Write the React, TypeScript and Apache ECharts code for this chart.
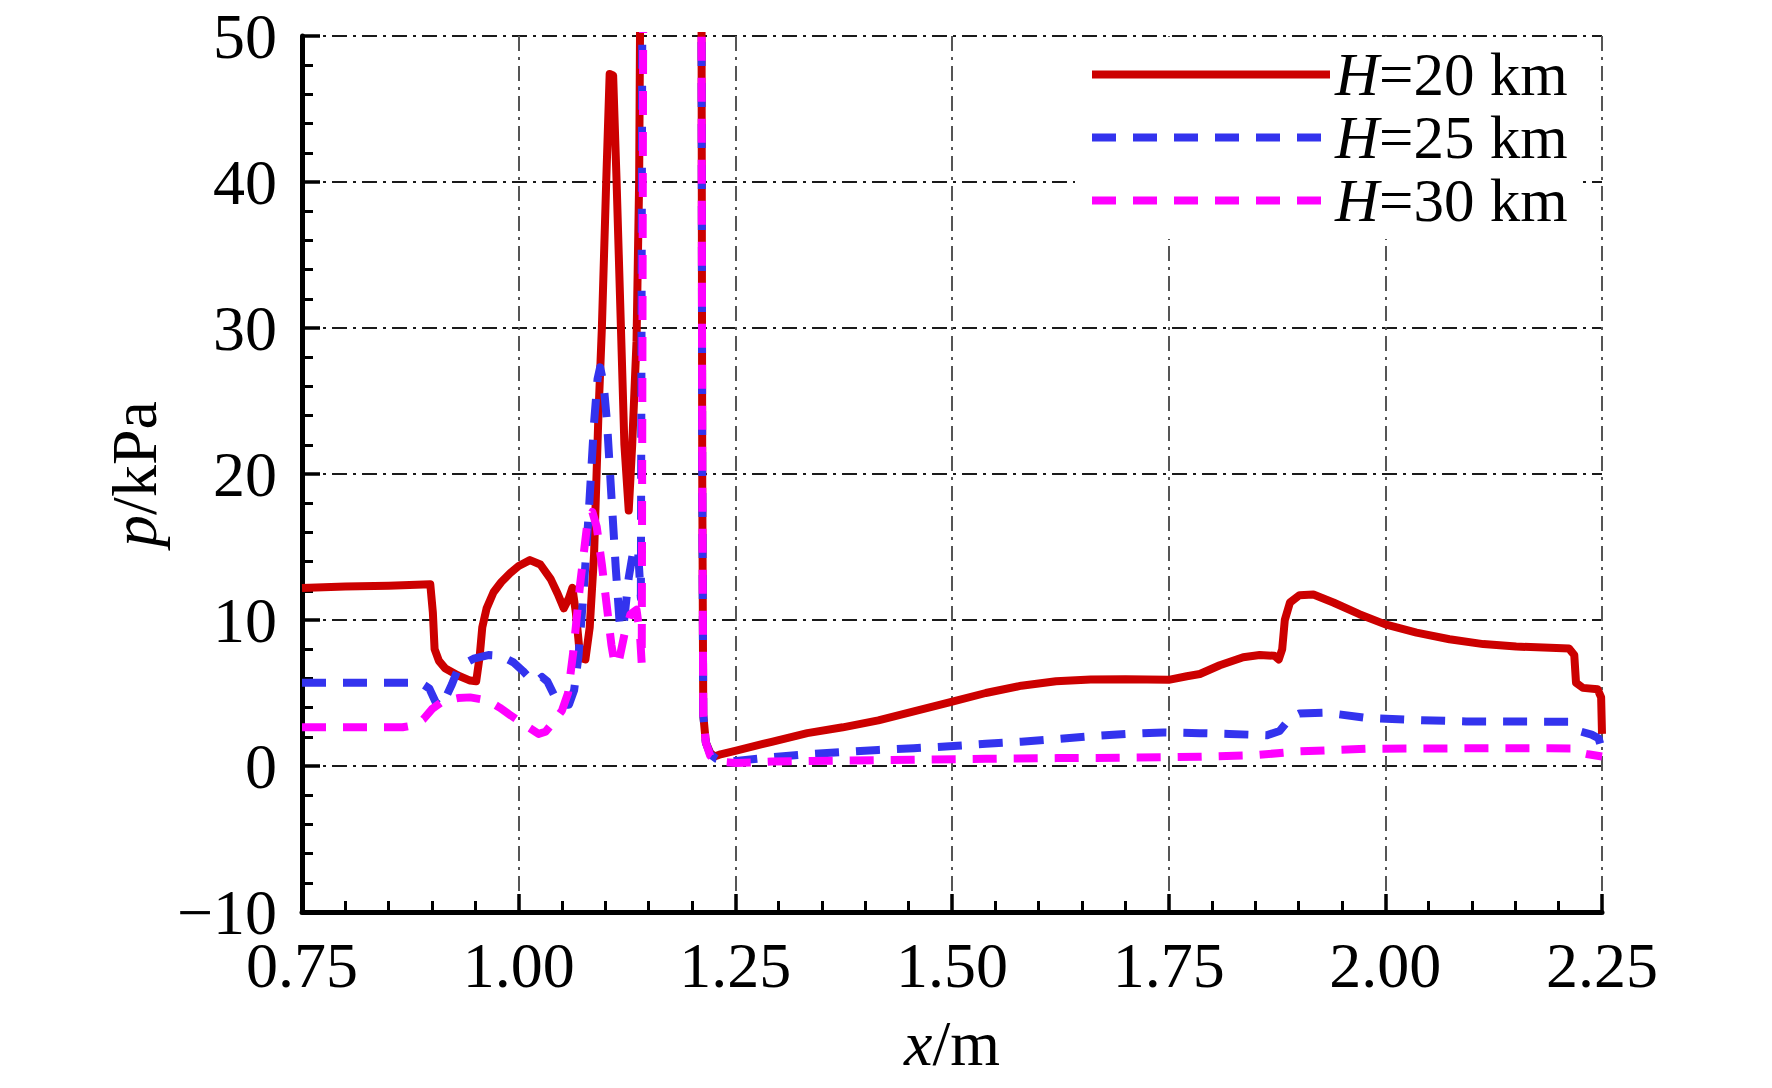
import React, { useEffect, useRef } from 'react';
import * as echarts from 'echarts';

const FONT = 'Liberation Serif';

const seriesNames = ['H=20 km', 'H=25 km', 'H=30 km'];
const seriesColors = ['#cc0000', '#3333ee', '#ff00ff'];

const xTicks = { min: 0.75, max: 2.25, step: 0.25 };
const yTicks = { min: -10, max: 50, step: 10 };

// H = 20 km
const h20: [number, number][] = [
  [0.75, 12.2], [0.8, 12.3], [0.85, 12.35], [0.898, 12.45], [0.901, 10.5], [0.903, 8.0],
  [0.908, 7.2], [0.915, 6.7], [0.93, 6.2], [0.944, 5.85], [0.951, 5.8], [0.955, 7.5],
  [0.958, 9.5], [0.963, 10.8], [0.971, 11.9], [0.98, 12.6], [0.99, 13.2], [1.0, 13.7],
  [1.013, 14.1], [1.025, 13.8], [1.037, 12.8], [1.045, 11.8], [1.052, 10.8], [1.058, 11.5],
  [1.062, 12.2], [1.066, 10.5], [1.071, 7.4], [1.077, 7.3], [1.082, 9.5], [1.087, 14.5],
  [1.092, 24], [1.096, 30], [1.101, 40], [1.105, 47.4], [1.109, 47.3], [1.113, 40],
  [1.118, 30], [1.122, 22], [1.127, 17.5], [1.131, 22], [1.136, 29.1], [1.139, 40],
  [1.141, 60], [1.175, 300], [1.2108, 60], [1.2118, 20], [1.213, 3.5], [1.216, 1.6],
  [1.221, 0.9], [1.226, 0.65], [1.233, 0.8], [1.251, 1.05], [1.292, 1.66], [1.333, 2.25],
  [1.374, 2.65], [1.415, 3.13], [1.456, 3.74], [1.497, 4.35], [1.539, 5.0], [1.58, 5.5],
  [1.62, 5.8], [1.66, 5.92], [1.7, 5.95], [1.75, 5.9], [1.771, 6.15], [1.786, 6.3],
  [1.809, 6.9], [1.836, 7.45], [1.855, 7.6], [1.872, 7.55], [1.877, 7.3], [1.881, 8.0],
  [1.884, 10.0], [1.89, 11.2], [1.901, 11.7], [1.917, 11.75], [1.94, 11.2], [1.97, 10.4],
  [2.0, 9.7], [2.036, 9.13], [2.074, 8.68], [2.113, 8.35], [2.151, 8.18], [2.19, 8.1],
  [2.212, 8.04], [2.218, 7.6], [2.22, 5.7], [2.228, 5.35], [2.245, 5.25], [2.249, 4.7],
  [2.25, 2.2],
];

// H = 25 km
const h25: [number, number][] = [
  [0.75, 5.7], [0.8, 5.7], [0.85, 5.7], [0.887, 5.7], [0.897, 5.3], [0.904, 4.4],
  [0.909, 4.1], [0.916, 4.7], [0.923, 5.6], [0.929, 6.5], [0.94, 7.1], [0.948, 7.35],
  [0.965, 7.6], [0.979, 7.55], [0.994, 7.1], [1.005, 6.5], [1.013, 6.0], [1.02, 5.75],
  [1.027, 6.1], [1.033, 5.8], [1.043, 4.6], [1.05, 4.2], [1.058, 4.2], [1.064, 5.2],
  [1.069, 7.5], [1.075, 12], [1.081, 17.5], [1.087, 23.5], [1.091, 26.5], [1.094, 27.3],
  [1.098, 26.2], [1.102, 23.5], [1.107, 18.5], [1.112, 13.6], [1.117, 9.4], [1.121, 9.6],
  [1.127, 12.9], [1.133, 15], [1.138, 14.5], [1.141, 11.5], [1.143, 60], [1.175, 300],
  [1.2108, 60], [1.2118, 20], [1.213, 3.5], [1.216, 1.6], [1.221, 0.8], [1.228, 0.5],
  [1.24, 0.35], [1.251, 0.35], [1.292, 0.6], [1.333, 0.8], [1.374, 0.95], [1.415, 1.1],
  [1.456, 1.22], [1.497, 1.35], [1.539, 1.52], [1.58, 1.66], [1.621, 1.85], [1.662, 2.05],
  [1.703, 2.2], [1.744, 2.3], [1.786, 2.25], [1.82, 2.2], [1.863, 2.1], [1.878, 2.4],
  [1.885, 2.9], [1.892, 3.35], [1.901, 3.6], [1.932, 3.65], [1.978, 3.3], [2.036, 3.15],
  [2.093, 3.05], [2.17, 3.04], [2.212, 3.03], [2.22, 2.7], [2.226, 2.35], [2.238, 2.15],
  [2.246, 1.9], [2.25, 1.1],
];

// H = 30 km
const h30: [number, number][] = [
  [0.75, 2.65], [0.8, 2.65], [0.866, 2.65], [0.88, 2.8], [0.89, 3.2], [0.9, 3.9],
  [0.913, 4.45], [0.93, 4.65], [0.944, 4.7], [0.964, 4.5], [0.978, 4.0], [0.99, 3.5],
  [1.01, 2.7], [1.023, 2.2], [1.031, 2.35], [1.04, 3.0], [1.05, 3.8], [1.057, 5.0],
  [1.063, 7.8], [1.071, 12.5], [1.079, 16.5], [1.085, 17.4], [1.09, 16.4], [1.096, 13.8],
  [1.102, 10.8], [1.107, 8.3], [1.111, 6.9], [1.116, 7.3], [1.122, 9.0], [1.129, 10.4],
  [1.136, 10.7], [1.14, 9.0], [1.142, 7.0], [1.144, 60], [1.175, 300], [1.2108, 60],
  [1.2118, 20], [1.213, 3.5], [1.216, 1.6], [1.221, 0.7], [1.228, 0.4], [1.24, 0.25],
  [1.251, 0.2], [1.292, 0.3], [1.374, 0.37], [1.456, 0.42], [1.539, 0.49], [1.621, 0.54],
  [1.703, 0.57], [1.785, 0.63], [1.847, 0.73], [1.901, 1.0], [1.978, 1.18], [2.093, 1.21],
  [2.19, 1.21], [2.217, 1.2], [2.222, 0.95], [2.234, 0.8], [2.25, 0.65],
];

const seriesData = [h20, h25, h30];
const seriesDash: (string | number[])[] = ['solid', [24, 17], [24, 17]];

export default function App() {
  const ref = useRef<HTMLDivElement>(null);
  useEffect(() => {
    if (!ref.current) return;
    const chart = echarts.init(ref.current, undefined, { renderer: 'svg' });
    const rich = {
      i: { fontFamily: FONT, fontSize: 64, fontStyle: 'italic', color: '#000' },
      r: { fontFamily: FONT, fontSize: 64, color: '#000' },
    };
    const legendRich = {
      i: { fontFamily: FONT, fontSize: 61, fontStyle: 'italic', color: '#000' },
      r: { fontFamily: FONT, fontSize: 61, color: '#000' },
    };
    const dashDot = [15, 6, 3, 6];
    chart.setOption({
      animation: false,
      backgroundColor: '#fff',
      textStyle: { fontFamily: FONT },
      grid: { left: 302, right: 170, top: 36, bottom: 176, containLabel: false },
      legend: {
        orient: 'vertical',
        left: 1075,
        top: 37,
        padding: [7, 14, 8, 13],
        backgroundColor: '#fff',
        itemWidth: 238,
        itemHeight: 14,
        itemGap: 2,
        data: seriesNames,
        lineStyle: { width: 8 },
        itemStyle: { opacity: 0 },
        formatter: (name: string) => `{i|H}{r|${name.slice(1)}}`,
        textStyle: { fontFamily: FONT, fontSize: 61, color: '#000', rich: legendRich },
      },
      xAxis: {
        type: 'value',
        min: xTicks.min,
        max: xTicks.max,
        interval: xTicks.step,
        name: '{i|x}{r|/m}',
        nameLocation: 'middle',
        nameGap: 99,
        nameTextStyle: { rich },
        axisLine: { show: true, onZero: false, lineStyle: { color: '#000', width: 5 } },
        axisTick: { show: true, inside: true, length: 18, lineStyle: { color: '#000', width: 3.5 } },
        minorTick: { show: true, splitNumber: 5, length: 11, lineStyle: { color: '#000', width: 3 } },
        axisLabel: {
          margin: 21,
          fontFamily: FONT,
          fontSize: 64,
          color: '#000',
          formatter: (v: number) => v.toFixed(2),
        },
        splitLine: { show: true, lineStyle: { color: '#555', width: 2, type: dashDot } },
      },
      yAxis: {
        type: 'value',
        min: yTicks.min,
        max: yTicks.max,
        interval: yTicks.step,
        name: '{i|p}{r|/kPa}',
        nameLocation: 'middle',
        nameRotate: 90,
        nameGap: 114,
        nameTextStyle: { rich },
        axisLine: { show: true, onZero: false, lineStyle: { color: '#000', width: 5 } },
        axisTick: { show: true, inside: true, length: 18, lineStyle: { color: '#000', width: 3.5 } },
        minorTick: { show: true, splitNumber: 5, length: 11, lineStyle: { color: '#000', width: 3 } },
        axisLabel: {
          margin: 25,
          fontFamily: FONT,
          fontSize: 64,
          color: '#000',
          formatter: (v: number) => (v < 0 ? '\u2212' + Math.abs(v) : String(v)),
        },
        splitLine: { show: true, lineStyle: { color: '#1a1a1a', width: 2, type: dashDot } },
      },
      series: seriesNames.map((name, i) => ({
        name,
        type: 'line',
        data: seriesData[i],
        showSymbol: false,
        symbol: 'none',
        clip: true,
        smooth: false,
        color: seriesColors[i],
        lineStyle: { color: seriesColors[i], width: 8, type: seriesDash[i], cap: 'butt', join: 'round' },
        z: 2 + i,
      })),
    });
    return () => chart.dispose();
  }, []);
  return (
    <div
      ref={ref}
      style={{ position: 'fixed', left: 0, top: 0, width: 1772, height: 1088, background: '#fff' }}
    />
  );
}
